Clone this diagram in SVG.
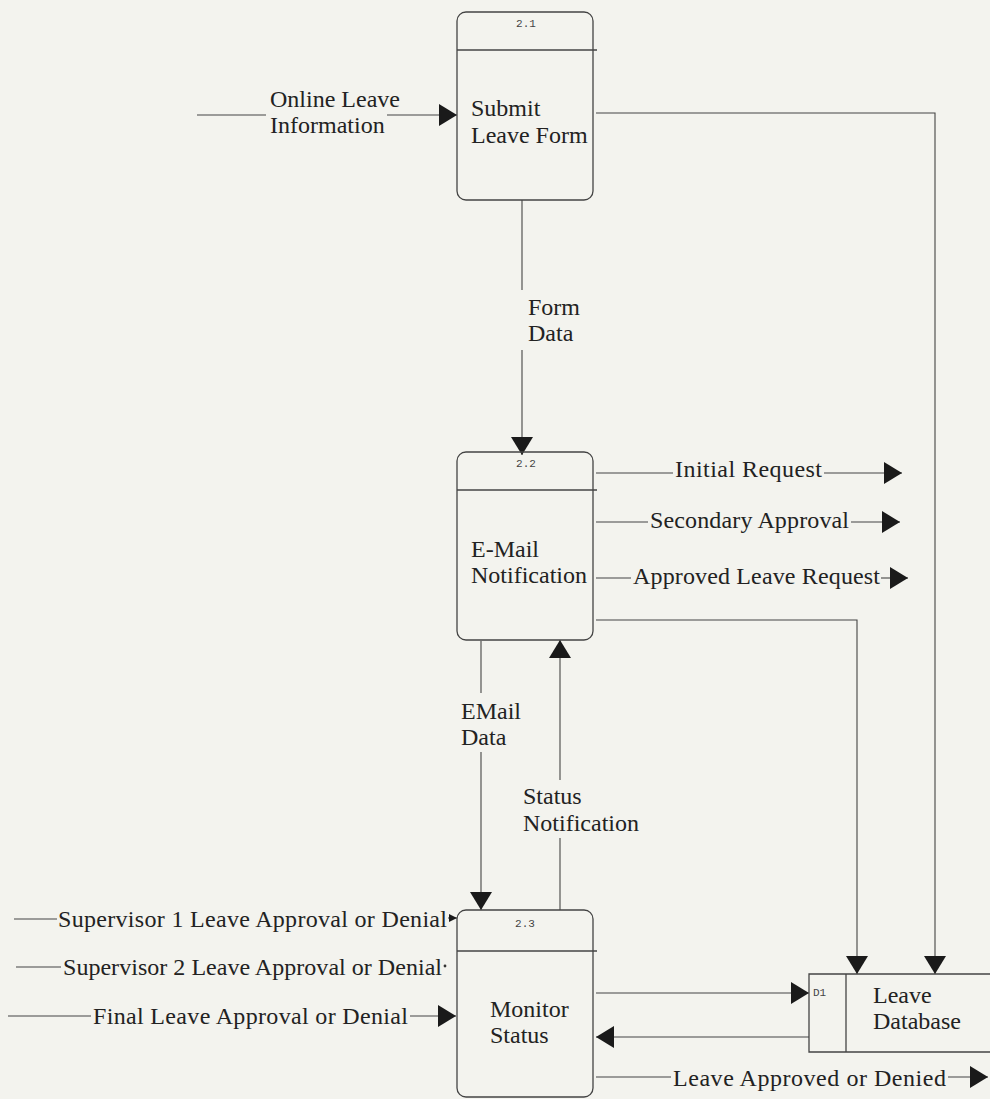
<svg xmlns="http://www.w3.org/2000/svg" width="990" height="1099" viewBox="0 0 990 1099">
<defs>
<marker id="ah" markerUnits="userSpaceOnUse" markerWidth="20" markerHeight="24" refX="18" refY="11" orient="auto"><path d="M0,0 L18,11 L0,22 Z" fill="#1a1a1a"/></marker>
<marker id="ahs" markerUnits="userSpaceOnUse" markerWidth="9" markerHeight="9" refX="8" refY="4" orient="auto"><path d="M0,0 L8,4 L0,8 Z" fill="#1a1a1a"/></marker>
<style>
.bg{fill:#f3f3ee}
.box{fill:none;stroke:#444;stroke-width:1.3}
.ln{fill:none;stroke:#444;stroke-width:1.1}
.t{font-family:"Liberation Serif","Times New Roman",serif;font-size:24px;fill:#222}
.n{font-family:"Liberation Mono","Courier New",monospace;font-size:11px;fill:#444}
</style>
</defs>
<rect class="bg" x="0" y="0" width="990" height="1099"/>

<g id="connectors">
<!-- Online Leave Information -->
<path class="ln" d="M197,115 H266"/>
<path class="ln" d="M387,115 H457" marker-end="url(#ah)"/>
<text class="t" x="270" y="107">Online Leave</text>
<text class="t" x="270" y="133">Information</text>
<!-- 2.1 to D1 -->
<path class="ln" d="M596,113 H935 V974" marker-end="url(#ah)"/>
<!-- Form Data -->
<path class="ln" d="M522,200 V290"/>
<path class="ln" d="M522,350 V455" marker-end="url(#ah)"/>
<text class="t" x="528" y="315">Form</text>
<text class="t" x="528" y="341">Data</text>
<!-- Outputs of 2.2 -->
<path class="ln" d="M596,473 H673"/>
<path class="ln" d="M824,473 H902" marker-end="url(#ah)"/>
<text class="t" x="675" y="477" textLength="147" lengthAdjust="spacing">Initial Request</text>
<path class="ln" d="M596,522 H648"/>
<path class="ln" d="M851,522 H900" marker-end="url(#ah)"/>
<text class="t" x="650" y="528" textLength="199" lengthAdjust="spacing">Secondary Approval</text>
<path class="ln" d="M596,578 H631"/>
<path class="ln" d="M881,578 H908" marker-end="url(#ah)"/>
<text class="t" x="633" y="584" textLength="247" lengthAdjust="spacing">Approved Leave Request</text>
<!-- 2.2 to D1 -->
<path class="ln" d="M596,620 H857 V974" marker-end="url(#ah)"/>
<!-- EMail Data -->
<path class="ln" d="M481,641 V693"/>
<path class="ln" d="M481,752 V910" marker-end="url(#ah)"/>
<text class="t" x="461" y="719">EMail</text>
<text class="t" x="461" y="745">Data</text>
<!-- Status Notification -->
<path class="ln" d="M560,910 V838"/>
<path class="ln" d="M560,780 V640" marker-end="url(#ah)"/>
<text class="t" x="523" y="804">Status</text>
<text class="t" x="523" y="831">Notification</text>
<!-- Supervisor inputs -->
<path class="ln" d="M14,919 H57"/>
<text class="t" x="58" y="927" textLength="389" lengthAdjust="spacing">Supervisor 1 Leave Approval or Denial</text>
<path class="ln" d="M448,918 H457" marker-end="url(#ahs)"/>
<path class="ln" d="M16,967 H61"/>
<text class="t" x="63" y="975" textLength="379" lengthAdjust="spacing">Supervisor 2 Leave Approval or Denial</text>
<circle cx="445" cy="966" r="1.4" fill="#333"/>
<path class="ln" d="M8,1016 H91"/>
<text class="t" x="93" y="1024" textLength="315" lengthAdjust="spacing">Final Leave Approval or Denial</text>
<path class="ln" d="M410,1016 H456" marker-end="url(#ah)"/>
<!-- 2.3 <-> D1 -->
<path class="ln" d="M596,993 H809" marker-end="url(#ah)"/>
<path class="ln" d="M809,1037 H596" marker-end="url(#ah)"/>
<!-- Leave Approved or Denied -->
<path class="ln" d="M596,1077 H671"/>
<text class="t" x="673" y="1086" textLength="273" lengthAdjust="spacing">Leave Approved or Denied</text>
<path class="ln" d="M948,1077 H988" marker-end="url(#ah)"/>
</g>

<g id="node-2-1">
<rect class="box" x="457" y="12" width="136" height="188" rx="9"/>
<line class="box" x1="457" y1="50" x2="597" y2="50"/>
<text class="n" x="526" y="27" text-anchor="middle">2.1</text>
<text class="t" x="471" y="116">Submit</text>
<text class="t" x="471" y="143">Leave Form</text>
</g>

<g id="node-2-2">
<rect class="box" x="457" y="452" width="136" height="188" rx="9"/>
<line class="box" x1="457" y1="490" x2="597" y2="490"/>
<text class="n" x="526" y="467" text-anchor="middle">2.2</text>
<text class="t" x="471" y="557">E-Mail</text>
<text class="t" x="471" y="583">Notification</text>
</g>

<g id="node-2-3">
<rect class="box" x="457" y="910" width="136" height="187" rx="9"/>
<line class="box" x1="457" y1="951" x2="597" y2="951"/>
<text class="n" x="525" y="927" text-anchor="middle">2.3</text>
<text class="t" x="490" y="1017">Monitor</text>
<text class="t" x="490" y="1043">Status</text>
</g>

<g id="store-d1">
<path class="box" d="M995,974 H809 V1052 H995"/>
<line class="box" x1="846" y1="974" x2="846" y2="1052"/>
<text class="n" x="813" y="996" font-size="10">D1</text>
<text class="t" x="873" y="1003">Leave</text>
<text class="t" x="873" y="1029">Database</text>
</g>
</svg>
